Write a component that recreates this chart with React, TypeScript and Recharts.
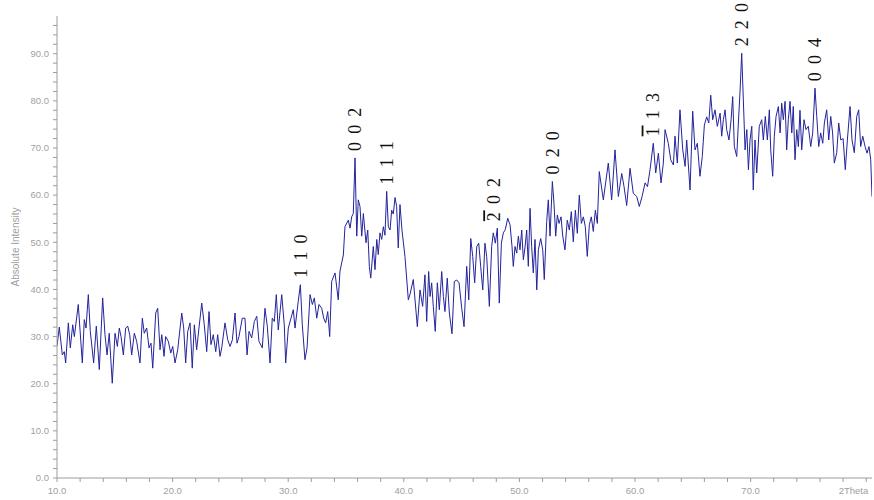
import React from 'react';
import { LineChart, Line, XAxis, YAxis, ReferenceDot } from 'recharts';

// 2θ positions (degrees) and the matching counts of the scan
const twoTheta = [
  10.0, 10.2, 10.46, 10.63, 10.75, 10.98, 11.15, 11.36, 11.5, 11.84,
  12.19, 12.36, 12.51, 12.71, 12.88, 13.17, 13.4, 13.66, 13.95, 14.15,
  14.33, 14.52, 14.78, 15.02, 15.22, 15.39, 15.54, 15.74, 15.94, 16.12,
  16.29, 16.46, 16.69, 16.89, 17.18, 17.38, 17.55, 17.76, 17.96, 18.13,
  18.28, 18.54, 18.71, 18.91, 19.06, 19.26, 19.4, 19.63, 19.84, 20.01,
  20.21, 20.44, 20.79, 20.96, 21.13, 21.31, 21.51, 21.7, 21.88, 22.08,
  22.28, 22.52, 22.74, 22.95, 23.15, 23.32, 23.52, 23.73, 23.9, 24.1,
  24.25, 24.53, 24.77, 24.97, 25.17, 25.4, 25.57, 25.74, 26.03, 26.26,
  26.44, 26.61, 26.84, 27.07, 27.28, 27.47, 27.76, 27.99, 28.19, 28.43,
  28.62, 28.8, 28.97, 29.14, 29.44, 29.66, 29.78, 30.01, 30.24, 30.44,
  30.59, 30.87, 31.05, 31.22, 31.45, 31.63, 31.89, 32.09, 32.26, 32.47,
  32.66, 32.9, 33.07, 33.24, 33.42, 33.59, 33.76, 34.05, 34.33, 34.48,
  34.77, 34.91, 35.2, 35.35, 35.49, 35.63, 35.78, 35.93, 36.06, 36.21,
  36.36, 36.5, 36.73, 36.88, 37.02, 37.14, 37.36, 37.51, 37.66, 37.79,
  37.94, 38.09, 38.23, 38.37, 38.52, 38.66, 38.81, 38.95, 39.09, 39.24,
  39.38, 39.52, 39.67, 39.84, 40.1, 40.39, 40.54, 40.82, 41.17, 41.4,
  41.63, 41.83, 41.98, 42.15, 42.27, 42.41, 42.55, 42.72, 42.9, 43.07,
  43.28, 43.42, 43.56, 43.76, 43.94, 44.17, 44.37, 44.58, 44.78, 45.01,
  45.21, 45.44, 45.62, 45.79, 45.96, 46.13, 46.31, 46.48, 46.65, 46.83,
  47.02, 47.17, 47.4, 47.6, 47.74, 47.92, 48.09, 48.26, 48.44, 48.61,
  48.78, 48.99, 49.19, 49.36, 49.47, 49.62, 49.77, 49.91, 50.05, 50.2,
  50.34, 50.48, 50.63, 50.77, 50.92, 51.06, 51.2, 51.35, 51.5, 51.64,
  51.84, 52.02, 52.15, 52.36, 52.5, 52.65, 52.85, 52.99, 53.14, 53.28,
  53.43, 53.6, 53.75, 53.94, 54.14, 54.32, 54.49, 54.66, 54.84, 55.01,
  55.18, 55.36, 55.53, 55.7, 55.87, 56.05, 56.22, 56.39, 56.57, 56.74,
  56.91, 57.26, 57.69, 57.98, 58.27, 58.56, 58.85, 59.05, 59.28, 59.57,
  59.85, 60.15, 60.37, 60.61, 60.87, 61.08, 61.3, 61.58, 61.79, 62.02,
  62.25, 62.45, 62.6, 62.88, 63.09, 63.32, 63.46, 63.66, 63.89, 64.13,
  64.33, 64.47, 64.76, 64.99, 65.19, 65.39, 65.62, 65.82, 66.0, 66.2,
  66.38, 66.55, 66.72, 66.92, 67.12, 67.36, 67.5, 67.64, 67.79, 67.93,
  68.13, 68.31, 68.45, 68.59, 68.8, 68.94, 69.08, 69.23, 69.37, 69.52,
  69.67, 69.81, 69.95, 70.1, 70.23, 70.38, 70.53, 70.75, 70.96, 71.1,
  71.27, 71.45, 71.62, 71.74, 71.91, 72.05, 72.2, 72.4, 72.55, 72.69,
  72.83, 72.98, 73.12, 73.26, 73.41, 73.56, 73.69, 73.84, 73.99, 74.13,
  74.27, 74.42, 74.62, 74.79, 74.99, 75.2, 75.37, 75.57, 75.72, 75.89,
  76.06, 76.24, 76.38, 76.58, 76.76, 76.93, 77.09, 77.24, 77.45, 77.62,
  77.8, 78.0, 78.19, 78.37, 78.6, 78.77, 78.97, 79.18, 79.35, 79.52,
  79.7, 79.9, 80.07, 80.24, 80.39, 80.5,
];

const intensity = [
  28.0, 32.0, 26.1, 26.8, 24.4, 32.9, 27.6, 32.5, 30.0, 36.8,
  24.4, 33.6, 31.8, 38.9, 31.1, 24.4, 32.2, 23.0, 38.2, 30.4,
  26.1, 30.7, 20.1, 30.7, 27.9, 31.8, 30.0, 26.1, 31.8, 32.2,
  30.4, 26.1, 30.7, 29.0, 24.4, 33.9, 30.7, 31.8, 27.6, 28.6,
  23.3, 35.0, 36.0, 27.2, 30.4, 25.8, 30.0, 29.0, 26.5, 27.9,
  24.4, 27.2, 35.0, 31.8, 24.4, 31.1, 32.9, 23.3, 32.5, 27.2,
  31.8, 37.1, 32.5, 26.8, 35.3, 28.3, 30.4, 26.8, 30.4, 25.8,
  27.6, 32.9, 29.3, 27.9, 29.3, 35.0, 28.6, 30.0, 33.9, 33.9,
  26.1, 31.1, 29.7, 33.2, 34.3, 29.0, 27.6, 36.0, 32.2, 24.4,
  33.9, 33.2, 38.9, 31.4, 38.9, 32.5, 24.4, 31.8, 33.9, 35.7,
  31.8, 37.5, 41.0, 32.5, 25.1, 27.6, 38.9, 36.8, 38.2, 33.9,
  36.8, 36.0, 33.9, 32.9, 35.3, 30.0, 41.7, 43.5, 37.8, 43.9,
  47.3, 53.3, 54.7, 53.0, 55.4, 56.1, 67.9, 51.3, 59.0, 57.6,
  51.3, 56.1, 49.9, 52.6, 44.8, 42.4, 49.1, 44.2, 50.6, 47.4,
  52.0, 50.6, 53.3, 51.5, 60.8, 53.3, 52.6, 56.8, 56.0, 59.5,
  57.6, 48.8, 58.0, 52.6, 47.0, 37.8, 39.0, 42.1, 32.1, 39.9,
  36.4, 43.1, 33.2, 43.8, 38.5, 41.4, 36.4, 31.1, 41.4, 35.7,
  43.8, 38.5, 35.3, 42.4, 35.0, 30.6, 41.7, 42.0, 41.4, 36.0,
  32.1, 44.9, 37.8, 50.8, 47.0, 41.4, 49.1, 49.8, 44.9, 39.9,
  49.8, 47.0, 36.4, 49.1, 52.0, 49.8, 53.0, 37.1, 49.8, 52.0,
  52.7, 55.1, 53.7, 49.1, 44.9, 49.1, 47.7, 51.3, 48.4, 52.6,
  46.3, 48.8, 52.6, 44.9, 57.2, 49.1, 43.5, 50.6, 39.9, 48.4,
  50.8, 48.4, 42.1, 54.4, 59.0, 51.3, 62.9, 58.3, 51.3, 55.8,
  54.0, 55.4, 51.3, 48.4, 54.7, 52.6, 56.5, 50.1, 56.8, 51.9,
  60.0, 54.0, 55.4, 53.3, 47.0, 53.7, 55.4, 52.3, 56.8, 54.0,
  65.0, 59.0, 66.8, 59.0, 69.6, 59.7, 64.6, 61.8, 57.8, 65.7,
  60.4, 59.7, 57.6, 59.7, 62.6, 61.8, 65.4, 71.0, 64.7, 68.9,
  62.6, 66.8, 73.9, 71.0, 67.5, 66.4, 72.5, 66.8, 78.1, 69.6,
  66.1, 71.7, 61.1, 77.8, 69.6, 71.0, 64.0, 68.2, 74.9, 76.6,
  75.3, 81.2, 76.0, 78.1, 74.6, 77.4, 72.5, 76.0, 78.1, 73.9,
  71.7, 76.0, 80.9, 70.3, 68.2, 75.3, 81.7, 90.1, 80.2, 69.6,
  73.9, 65.4, 71.7, 74.6, 61.1, 71.7, 64.7, 74.6, 76.0, 71.7,
  76.7, 71.7, 78.1, 69.6, 64.0, 72.5, 76.7, 78.8, 73.2, 79.5,
  76.0, 79.9, 69.6, 76.0, 79.9, 73.2, 78.8, 67.5, 73.9, 70.3,
  78.0, 69.6, 76.0, 73.9, 74.6, 70.3, 73.2, 82.7, 76.7, 70.3,
  73.2, 71.0, 75.3, 78.1, 71.7, 76.7, 73.2, 66.8, 69.0, 75.3,
  71.7, 72.0, 65.4, 71.7, 78.8, 71.7, 69.0, 76.7, 78.1, 70.3,
  72.5, 70.3, 68.9, 70.3, 67.5, 59.7,
];

// reflection labels: Miller indices, a leading minus marks a barred index
const peakHkl = ['1 1 0', '0 0 2', '1 1 1', '-2 0 2', '0 2 0', '-1 1 3', '2 2 0', '0 0 4'];
const peakTheta = [31.05, 35.78, 38.52, 47.8, 52.85, 61.5, 69.23, 75.57];
const peakIntensity = [41.0, 67.9, 60.8, 53.0, 62.9, 71.0, 90.1, 82.7];

const xTicks = [
  10, 12, 14, 16, 18, 20, 22, 24, 26, 28, 30, 32, 34, 36, 38, 40, 42, 44,
  46, 48, 50, 52, 54, 56, 58, 60, 62, 64, 66, 68, 70, 72, 74, 76, 78, 80,
];
const yTicks = [
  0, 2, 4, 6, 8, 10, 12, 14, 16, 18, 20, 22, 24, 26, 28, 30, 32, 34, 36, 38,
  40, 42, 44, 46, 48, 50, 52, 54, 56, 58, 60, 62, 64, 66, 68, 70, 72, 74, 76,
  78, 80, 82, 84, 86, 88, 90, 92, 94, 96,
];
const xTitle = '2Theta';
const yTitle = 'Absolute Intensity';

const data = twoTheta.map((t, i) => ({ t, counts: intensity[i] }));

const AXIS = '#9c9c9c';
const TICK_TEXT = '#a0a0a0';
const SANS = '"Liberation Sans", Arial, sans-serif';

function XTick(props: any) {
  const { x, y, payload } = props;
  const v = payload.value;
  if (v % 10 !== 0) return <g />;
  const last = v === xTicks[xTicks.length - 1];
  return (
    <text
      x={last ? x + 2 : x}
      y={y}
      dy="0.71em"
      textAnchor={last ? 'end' : 'middle'}
      fill={TICK_TEXT}
      fontSize={9.5}
      fontFamily={SANS}
    >
      {last ? xTitle : v.toFixed(1)}
    </text>
  );
}

function YTick(props: any) {
  const { x, y, payload } = props;
  const v = payload.value;
  if (v % 10 !== 0) return <g />;
  return (
    <text x={x} y={y} dy="0.35em" textAnchor="end" fill={TICK_TEXT} fontSize={9.5} fontFamily={SANS}>
      {v.toFixed(1)}
    </text>
  );
}

function HklLabel(props: any) {
  const { cx, cy, hkl } = props;
  const y0 = cy - 7;
  const neg = hkl.startsWith('-');
  const body = neg ? hkl.slice(2) : hkl.slice(1);
  const first = neg ? hkl[1] : hkl[0];
  return (
    <text
      x={cx}
      y={y0}
      dy="0.35em"
      transform={`rotate(-90, ${cx}, ${y0})`}
      fontSize={18}
      fontFamily='"Liberation Serif", "Times New Roman", serif'
      fill="#111"
      letterSpacing={1.8}
    >
      <tspan style={neg ? { textDecoration: 'overline' } : undefined}>{first}</tspan>
      <tspan>{body}</tspan>
    </text>
  );
}

export default function App() {
  return (
    <div style={{ position: 'absolute', left: 0, top: 0, background: '#fff' }}>
      <LineChart width={874} height={500} data={data} margin={{ top: 16, right: 2, left: 0, bottom: 0 }}>
        <XAxis
          dataKey="t"
          type="number"
          domain={[10, 80.5]}
          ticks={xTicks}
          interval={0}
          height={22}
          stroke={AXIS}
          tickSize={4}
          tickMargin={5}
          tick={<XTick />}
          allowDataOverflow
        />
        <YAxis
          type="number"
          domain={[0, 98]}
          ticks={yTicks}
          interval={0}
          width={57}
          stroke={AXIS}
          tickSize={4}
          tickMargin={4}
          tick={<YTick />}
          allowDataOverflow
          label={{
            value: yTitle,
            angle: -90,
            position: 'insideLeft',
            offset: 15,
            fill: TICK_TEXT,
            fontSize: 10,
            fontFamily: SANS,
            style: { textAnchor: 'middle' },
          }}
        />
        <Line
          type="linear"
          dataKey="counts"
          stroke="#23239c"
          strokeWidth={1}
          dot={false}
          isAnimationActive={false}
        />
        {peakHkl.map((hkl, i) => (
          <ReferenceDot
            key={hkl}
            x={peakTheta[i]}
            y={peakIntensity[i]}
            r={0}
            ifOverflow="visible"
            shape={(p: any) => <HklLabel {...p} hkl={hkl} />}
          />
        ))}
      </LineChart>
    </div>
  );
}
